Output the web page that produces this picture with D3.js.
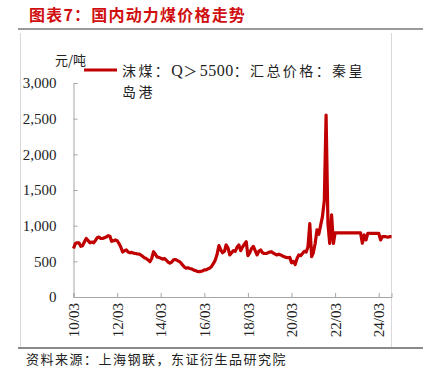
<!DOCTYPE html>
<html>
<head>
<meta charset="utf-8">
<script src="https://cdn.jsdelivr.net/npm/d3@7"></script>
<style>
  body { margin: 0; background: #fff; }
  svg { display: block; }
  .serif { font-family: "Liberation Serif", "DejaVu Serif", serif; }
  .cjk { font-family: "Noto Sans CJK SC", sans-serif; }
</style>
</head>
<body>
<div id="chart"></div>
<script>
// monthly series, starting 2010-03
const startMonth = "2010-03";
const values2010 = [680, 750, 760, 760, 710, 720, 775, 820, 790, 760];
const values2011 = [770, 760, 790, 830, 840, 820, 820, 830, 840, 860, 850, 780];
const values2012 = [790, 800, 790, 750, 700, 630, 650, 660, 630, 620, 625, 615];
const values2013 = [610, 605, 603, 590, 570, 550, 540, 520, 495, 540, 635, 600];
const values2014 = [560, 555, 545, 530, 540, 520, 490, 475, 490, 520, 525, 515];
const values2015 = [500, 480, 450, 420, 405, 410, 400, 395, 380, 370, 360, 355];
const values2016 = [360, 365, 380, 380, 395, 405, 430, 470, 520, 600, 720, 660];
const values2017 = [620, 640, 730, 690, 590, 620, 650, 640, 700, 730, 650, 700];
const values2018 = [740, 775, 580, 620, 680, 710, 650, 590, 640, 660, 620, 610];
const values2019 = [610, 620, 630, 635, 615, 600, 590, 600, 590, 575, 565, 555];
const values2020 = [550, 555, 480, 500, 455, 540, 590, 580, 610, 640, 630, 700];
const values2021 = [1030, 565, 620, 750, 940, 880, 1000, 1126, 1350, 2550, 1030, 750];
const values2022 = [1150, 750, 900, 900, 900, 900, 900, 900, 900, 900, 900, 900];
const values2023 = [900, 900, 900, 900, 900, 753, 870, 800, 893, 893, 893, 893];
const values2024 = [893, 893, 893, 800, 845, 845, 845, 840, 845, 845];

const yTicks = [0, 500, 1000, 1500, 2000, 2500, 3000];
const xTickLabels = ["10/03", "12/03", "14/03", "16/03", "18/03", "20/03", "22/03", "24/03"];

const titleText = "图表7：国内动力煤价格走势";
const unitText = "元/吨";
// legend first line split so the latin part can use the serif face
const legendParts = [
  { t: "沫煤：", serif: false },
  { t: "Q", serif: true },
  { t: "＞", serif: false },
  { t: "5500", serif: true },
  { t: "：汇总价格：秦皇", serif: false }
];
const legendLine2 = "岛港";
const sourceText = "资料来源：上海钢联，东证衍生品研究院";

const W = 423, H = 385;
const red = "#c00000";
const axisGrey = "#a6a6a6";

const parse = d3.timeParse("%y/%m");
const parseStart = d3.timeParse("%Y-%m");

const allValues = [].concat(values2010, values2011, values2012, values2013, values2014,
  values2015, values2016, values2017, values2018, values2019, values2020, values2021,
  values2022, values2023, values2024);
const t0 = parseStart(startMonth);
const data = allValues.map((v, i) => ({ date: d3.timeMonth.offset(t0, i), value: v }));

const svg = d3.select("#chart").append("svg")
  .attr("width", W)
  .attr("height", H);

const x = d3.scaleTime()
  .domain([t0, parseStart("2024-10")])
  .range([73.5, 391.5]);
const y = d3.scaleLinear()
  .domain([0, 3000])
  .range([297, 83]);

// title + rule lines
svg.append("text")
  .attr("class", "cjk")
  .attr("x", 29).attr("y", 21)
  .attr("fill", "#d01010")
  .attr("font-size", 16).attr("font-weight", "bold")
  .attr("letter-spacing", 1.2)
  .text(titleText);

svg.append("line")
  .attr("x1", 18).attr("x2", W).attr("y1", 29).attr("y2", 29)
  .attr("stroke", "#9a9a9a").attr("stroke-width", 2);

svg.append("line")
  .attr("x1", 18).attr("x2", W).attr("y1", 348).attr("y2", 348)
  .attr("stroke", "#8a8a8a").attr("stroke-width", 2);

// light frame
svg.append("line")
  .attr("x1", 20.5).attr("x2", 20.5).attr("y1", 33).attr("y2", 347)
  .attr("stroke", "#d9d9d9");
svg.append("line")
  .attr("x1", 391.5).attr("x2", 391.5).attr("y1", 33).attr("y2", 347)
  .attr("stroke", "#d9d9d9");

// y axis
const yAxis = d3.axisLeft(y)
  .tickValues(yTicks)
  .tickSize(-4)
  .tickPadding(17)
  .tickFormat(d3.format(","));

const gy = svg.append("g")
  .attr("transform", "translate(73.5,0)")
  .call(yAxis);
gy.select(".domain").attr("stroke", axisGrey);
gy.selectAll(".tick line").attr("stroke", axisGrey);
gy.selectAll(".tick text")
  .attr("class", "serif")
  .attr("font-size", 15)
  .attr("fill", "#222");

// x axis
const xTickDates = xTickLabels.map(s => parse(s));
const xAxis = d3.axisBottom(x)
  .tickValues(xTickDates)
  .tickSize(-4)
  .tickFormat(d3.timeFormat("%y/%m"));

const gx = svg.append("g")
  .attr("transform", "translate(0,297)")
  .call(xAxis);
gx.select(".domain").attr("stroke", axisGrey);
gx.selectAll(".tick line").attr("stroke", axisGrey);
gx.selectAll(".tick text")
  .attr("class", "serif")
  .attr("font-size", 15)
  .attr("fill", "#222")
  .attr("transform", "rotate(-90)")
  .attr("text-anchor", "end")
  .attr("x", -6)
  .attr("y", 0)
  .attr("dy", "0.35em");

// price line
const line = d3.line()
  .x(d => x(d.date))
  .y(d => y(d.value));

svg.append("path")
  .datum(data)
  .attr("fill", "none")
  .attr("stroke", red)
  .attr("stroke-width", 3.2)
  .attr("stroke-linejoin", "round")
  .attr("d", line);

// unit label
svg.append("text")
  .attr("class", "cjk")
  .attr("x", 55).attr("y", 65)
  .attr("font-size", 13)
  .attr("fill", "#222")
  .text(unitText);

// legend
svg.append("line")
  .attr("x1", 84).attr("x2", 117).attr("y1", 70).attr("y2", 70)
  .attr("stroke", red).attr("stroke-width", 3);

const leg1 = svg.append("text")
  .attr("x", 122).attr("y", 76)
  .attr("font-size", 14)
  .attr("fill", "#222");
leg1.selectAll("tspan")
  .data(legendParts)
  .join("tspan")
  .attr("class", d => d.serif ? "serif" : "cjk")
  .attr("font-size", d => d.serif ? 16 : 14)
  .attr("letter-spacing", d => d.serif ? 0.5 : 2.4)
  .text(d => d.t);

svg.append("text")
  .attr("class", "cjk")
  .attr("x", 122).attr("y", 97)
  .attr("font-size", 14)
  .attr("fill", "#222")
  .attr("letter-spacing", 2.4)
  .text(legendLine2);

// source
svg.append("text")
  .attr("class", "cjk")
  .attr("x", 26).attr("y", 364)
  .attr("font-size", 13)
  .attr("fill", "#222")
  .attr("letter-spacing", 1.5)
  .text(sourceText);
</script>
</body>
</html>
